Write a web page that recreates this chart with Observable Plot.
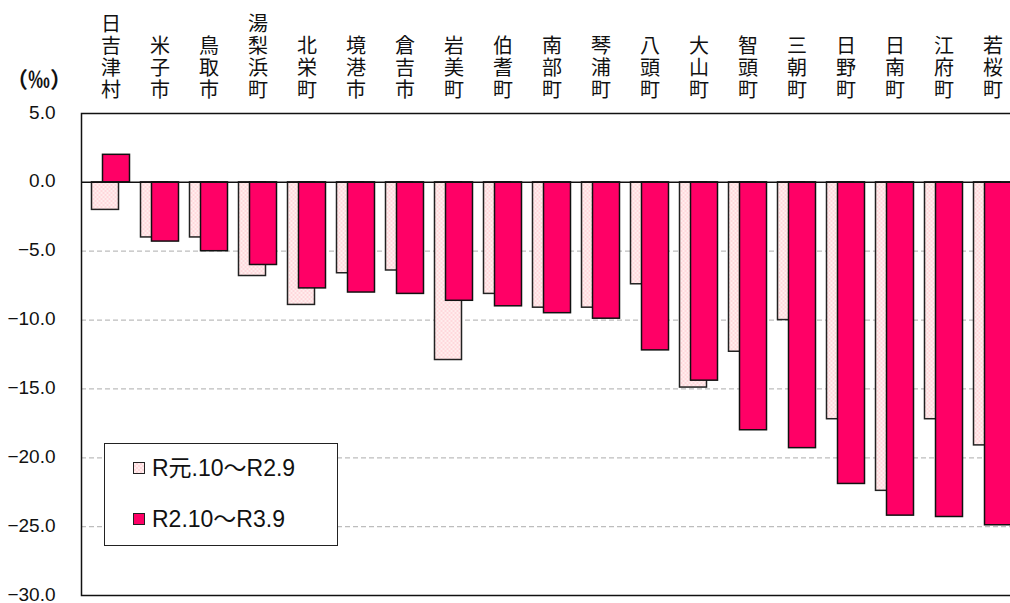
<!DOCTYPE html>
<html>
<head>
<meta charset="utf-8">
<script src="https://cdn.jsdelivr.net/npm/d3@7"></script>
<script src="https://cdn.jsdelivr.net/npm/@observablehq/plot@0.6"></script>
<style>
  body { margin: 0; background: #fff; }
  #wrap { position: relative; width: 1010px; height: 603px; overflow: hidden; font-family: "Liberation Sans", Arial, "Noto Sans CJK JP", sans-serif; }
  #unit { position: absolute; left: 6px; top: 62px; font-size: 22px; line-height: 30px; font-weight: bold; font-family: "Noto Sans CJK JP", sans-serif; color: #111; }
  #legend { position: absolute; left: 104px; top: 443px; width: 232px; height: 101px; border: 1.5px solid #222; background: #fff; }
  .item { position: absolute; left: 28px; font-size: 23px; line-height: 28px; white-space: nowrap; display: flex; align-items: center; color: #111; }
  .sw { width: 10px; height: 10px; border: 1.2px solid #222; margin-right: 7px; }
</style>
</head>
<body>
<div id="wrap">
  <div id="chart"></div>
  <div id="unit">（‰）</div>
  <div id="legend"></div>
</div>
<script>
const categories = ["日吉津村","米子市","鳥取市","湯梨浜町","北栄町","境港市","倉吉市","岩美町","伯耆町","南部町","琴浦町","八頭町","大山町","智頭町","三朝町","日野町","日南町","江府町","若桜町"];
const seriesNames = ["R元.10～R2.9", "R2.10～R3.9"];
const valuesPrev = [-2.0, -4.0, -4.0, -6.8, -8.9, -6.6, -6.4, -12.9, -8.1, -9.1, -9.1, -7.4, -14.9, -12.3, -10.0, -17.2, -22.4, -17.2, -19.1];
const valuesCurr = [2.0, -4.3, -5.0, -6.0, -7.7, -8.0, -8.1, -8.6, -9.0, -9.5, -9.9, -12.2, -14.4, -18.0, -19.3, -21.9, -24.2, -24.3, -24.9];
const yTicks = [5, 0, -5, -10, -15, -20, -25, -30];
const gridTicks = [-5, -10, -15, -20, -25];
const colors = ["url(#lightpat)", "#ff0066"];

const data = categories.map((c, i) => ({cat: c, prev: valuesPrev[i], curr: valuesCurr[i], label: Array.from(c).join("\n")}));

const chart = Plot.plot({
  width: 1010,
  height: 603,
  marginLeft: 81,
  marginRight: -12,
  marginTop: 113,
  marginBottom: 8,
  style: {fontFamily: "'Liberation Sans', Arial, sans-serif", background: "#fff", overflow: "visible"},
  x: {domain: categories, paddingInner: 0.45, paddingOuter: 0.225, axis: null},
  y: {domain: [-30, 5], axis: null},
  marks: [
    Plot.ruleY(gridTicks, {stroke: "#bdbdbd", strokeDasharray: "5,3", strokeWidth: 1.2}),
    Plot.barY(data, {x: "cat", y: "prev", fill: colors[0], stroke: "#222", strokeWidth: 1.5, dx: -5.5}),
    Plot.barY(data, {x: "cat", y: "curr", fill: colors[1], stroke: "#111", strokeWidth: 1.5, dx: 5.5}),
    Plot.ruleY([0], {stroke: "#111", strokeWidth: 1.5}),
    Plot.frame({stroke: "#111", strokeWidth: 1.5}),
    Plot.axisY({ticks: yTicks, tickSize: 0, tickPadding: 26, tickFormat: d3.format(".1f"), fontSize: 19, fill: "#111", dy: -1}),
    Plot.text(data, {x: "cat", text: "label", frameAnchor: "top", lineAnchor: "bottom", dy: -17, lineHeight: 1.1, fontSize: 20, fill: "#111", fontFamily: "'Noto Sans CJK JP', sans-serif"})
  ]
});

// pattern for the light bars
const svg = d3.select(chart);
const defs = svg.insert("defs", ":first-child");
const pat = defs.append("pattern").attr("id", "lightpat").attr("width", 4).attr("height", 4).attr("patternUnits", "userSpaceOnUse");
pat.append("rect").attr("width", 4).attr("height", 4).attr("fill", "#ffeeee");
pat.append("rect").attr("width", 2).attr("height", 2).attr("fill", "#ffd8dc");
pat.append("rect").attr("x", 2).attr("y", 2).attr("width", 2).attr("height", 2).attr("fill", "#ffd8dc");

document.getElementById("chart").appendChild(chart);

// legend
const legend = d3.select("#legend");
seriesNames.forEach((name, i) => {
  const it = legend.append("div").attr("class", "item").style("top", (i === 0 ? 10 : 61) + "px");
  const sw = it.append("div").attr("class", "sw");
  if (i === 0) sw.style("background", "repeating-conic-gradient(#ffd8dc 0% 25%, #ffeeee 0% 50%) 0 0/4px 4px");
  else sw.style("background", colors[1]);
  it.append("span").text(name);
});
</script>
</body>
</html>
